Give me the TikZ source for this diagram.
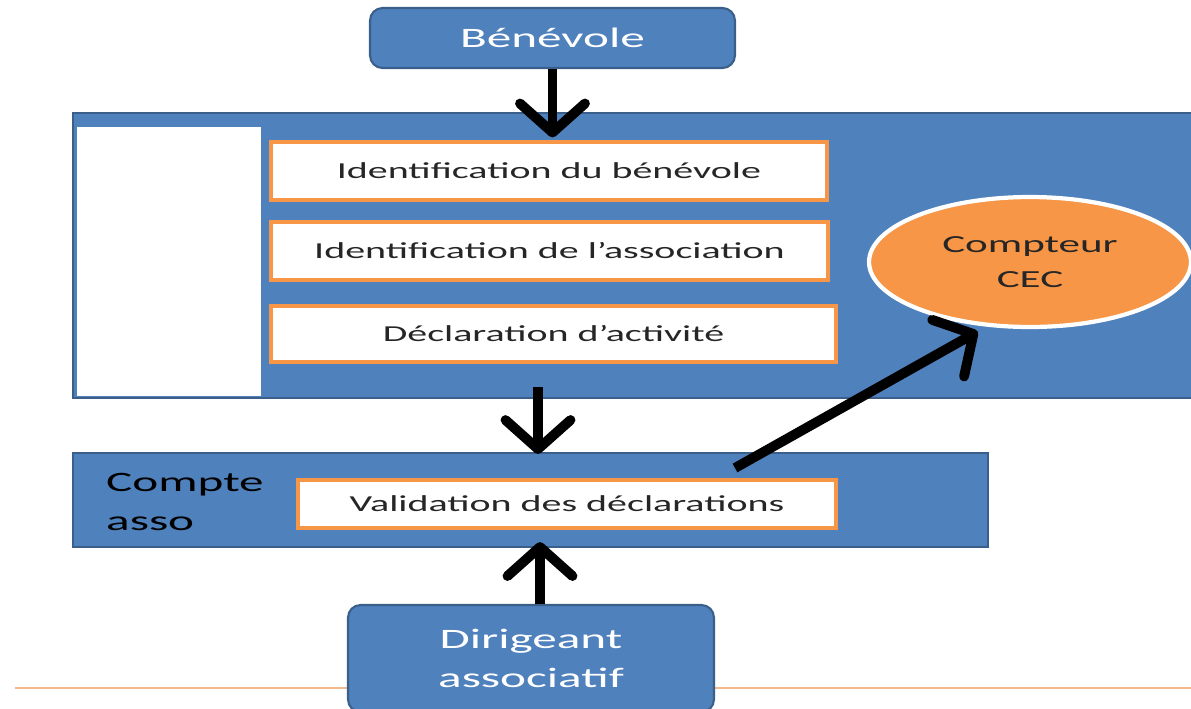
\documentclass[tikz,border=0pt]{standalone}
\usepackage{fontspec}
\setmainfont{Carlito}[FakeStretch=1.75]
\usetikzlibrary{arrows.meta,shapes.geometric}

\definecolor{boxblue}{HTML}{4F81BD}
\definecolor{boxblueline}{HTML}{3A5F8B}
\definecolor{boxorange}{HTML}{F79646}
\definecolor{lineorange}{HTML}{F4B98A}
\definecolor{textdark}{HTML}{262626}

\tikzset{
	actorbox/.style={draw=boxblueline,fill=boxblue,line width=1.2pt,rounded corners=0.25cm,text=white,align=center},
	zonebox/.style={draw=boxblueline,fill=boxblue,line width=1.2pt},
	stepbox/.style={draw=boxorange,fill=white,line width=2.4pt,text=textdark,font=\fontsize{13}{15}\selectfont},
	bigarrow/.style={line width=5.6pt,-{Straight Barb[length=0.58cm,width=1.3cm,round]}}
}

\begin{document}
\begin{tikzpicture}[x=0.02cm,y=-0.02cm]
				% page frame
				\useasboundingbox (0,0) rectangle (1191,708);
				\clip (0,0) rectangle (1191,708);

				% thin line at the foot of the page
				\draw[lineorange,line width=1pt] (15,688) -- (1191,688);

				% the account of the volunteer
				\node[zonebox,minimum width=22.6cm,minimum height=5.7cm] (espace) at (638,255.5) {};
				\node[fill=white,minimum width=3.68cm,minimum height=5.38cm] (blanc) at (169,261.5) {};

				\node[stepbox,minimum width=11.12cm,minimum height=1.16cm] (idben) at (549,171) {Identification du bénévole};
				\node[stepbox,minimum width=11.14cm,minimum height=1.16cm] (idasso) at (549.5,251) {Identification de l’association};
				\node[stepbox,minimum width=11.3cm,minimum height=1.12cm] (decl) at (553.5,334) {Déclaration d’activité};

				\node[ellipse,draw=white,fill=boxorange,line width=2.4pt,minimum width=6.44cm,minimum height=2.6cm,
					text=textdark,align=center,font=\fontsize{14}{20}\selectfont] (cec) at (1030,262) {Compteur\\CEC};

				% the account of the association
				\node[zonebox,minimum width=18.3cm,minimum height=1.88cm] (compte) at (530.5,500) {};
				\node[anchor=west,align=left,text=black,font=\fontsize{16}{22.5}\selectfont] (comptelbl) at (100,502) {Compte\\asso};
				\node[stepbox,minimum width=10.76cm,minimum height=0.96cm] (valid) at (567,504) {Validation des déclarations};

				% the two actors
				\node[actorbox,minimum width=7.3cm,minimum height=1.2cm,font=\fontsize{16}{19}\selectfont] (ben) at (552.5,38) {Bénévole};
				\node[actorbox,minimum width=7.32cm,minimum height=2.14cm,font=\fontsize{16}{22.5}\selectfont] (dir) at (531,658.5) {Dirigeant\\associatif};

				% the arrows
				\coordinate (depart) at (735,468);
				\draw[bigarrow] (ben.south) -- ([yshift=0.05cm]ben.south |- idben.north);
				\draw[bigarrow] ([xshift=-0.31cm,yshift=-0.46cm]decl.south) -- ([xshift=-0.31cm,yshift=-0.04cm]decl.south |- compte.north);
				\draw[bigarrow] ([xshift=0.18cm]dir.north) -- ([xshift=0.18cm,yshift=-0.24cm]dir.north |- valid.south);
				\draw[bigarrow,shorten >=0.2cm] (depart) -- (cec.236);
			\end{tikzpicture}
\end{document}
